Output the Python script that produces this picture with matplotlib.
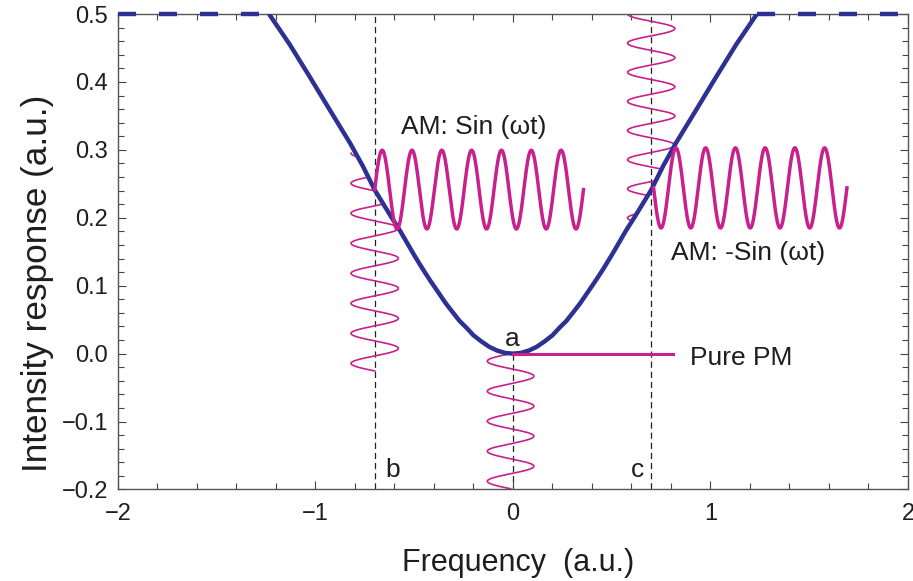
import numpy as np
import matplotlib
matplotlib.use("Agg")
import matplotlib.pyplot as plt
from matplotlib.ticker import MultipleLocator, FuncFormatter

plt.rcParams.update({"font.family": ["Liberation Sans", "DejaVu Sans"],
                     "lines.scale_dashes": False})

NAVY = "#2e3192"
MAGENTA = "#c8208c"
INK = "#1e1e1e"

# filter response curve (frequency, intensity)
curve_x = [-1.235, -1.13, -1.03, -0.93, -0.825, -0.76, -0.70, -0.62, -0.57, -0.50, -0.46,
           -0.42, -0.38, -0.34, -0.30, -0.27, -0.235, -0.20, -0.16, -0.12, -0.08, -0.04, 0.0,
           0.04, 0.08, 0.12, 0.16, 0.20, 0.235, 0.27, 0.30, 0.34, 0.38, 0.42, 0.46, 0.50,
           0.57, 0.62, 0.70, 0.76, 0.825, 0.93, 1.03, 1.13, 1.235]
curve_y = [0.500, 0.455, 0.408, 0.360, 0.310, 0.276, 0.241, 0.203, 0.180, 0.145, 0.126,
           0.108, 0.091, 0.074, 0.059, 0.048, 0.038, 0.027, 0.018, 0.010, 0.0045, 0.001, 0.0,
           0.001, 0.0045, 0.010, 0.018, 0.027, 0.038, 0.048, 0.059, 0.074, 0.091, 0.108, 0.126,
           0.145, 0.180, 0.203, 0.241, 0.276, 0.310, 0.360, 0.408, 0.455, 0.500]
clip_level = 0.5
x_range = [-2, 2]

# operating points a, b, c
op_x = [0.0, -0.70, 0.70]
op_names = ["a", "b", "c"]

# input frequency wobble drawn vertically: centre x, amplitude, period (y), start y, cycles, phase
vwaves = [
    dict(cx=-0.012, amp=0.118, period=0.0442, y0=0.0, cycles=4.5, phase="sin"),     # a
    dict(cx=-0.70, amp=0.120, period=0.0442, y0=0.295, cycles=7.25, phase="cos"),   # b
    dict(cx=0.70, amp=0.120, period=0.0429, y0=0.5, cycles=7.25, phase="cos"),      # c
]
# the part on the far side of the curve is left out (side, only above this level)
vwave_hide = [(None, 0), ("above", 0.18), ("below", -1.0)]

# output intensity waves: start x, centre y, amplitude, period (x), cycles, sign
am_waves = [
    dict(x0=-0.70, cy=0.2415, amp=0.058, period=0.151, cycles=7.0, sign=1),
    dict(x0=0.712, cy=0.244, amp=0.059, period=0.1506, cycles=6.5, sign=-1),
]
pm_line_x = [0.0, 0.81]

fig = plt.figure(figsize=(9.13, 5.81), dpi=100)
ax = fig.add_axes([0.1292, 0.1575, 0.8653, 0.8184])

# dashed guide lines
guide = dict(color="#222", lw=0.9, dashes=(4.5, 2.8), zorder=1)
ax.plot([op_x[1]] * 2, [-0.2, 0.5], **guide)
ax.plot([op_x[2]] * 2, [-0.2, 0.5], **guide)
ax.plot([op_x[0]] * 2, [0.0, -0.2], **guide)

# vertical input waves
for w, (side, level) in zip(vwaves, vwave_hide):
    t = np.linspace(0, w["cycles"], 800)
    yy = w["y0"] - t * w["period"]
    if w["phase"] == "sin":
        xx = w["cx"] - w["amp"] * np.sin(2 * np.pi * t)
    else:
        xx = w["cx"] - w["amp"] * np.cos(2 * np.pi * t)
    cy = np.interp(xx, curve_x, curve_y)
    if side == "above":
        xx = np.where((yy > cy) & (yy > level), np.nan, xx)
    elif side == "below":
        xx = np.where((yy < cy) & (yy > level), np.nan, xx)
    ax.plot(xx, yy, color=MAGENTA, lw=1.2, zorder=2)

# response curve and clipped flat parts
ax.plot(curve_x, curve_y, color=NAVY, lw=3.2, solid_capstyle="butt",
        solid_joinstyle="round", zorder=3)
ax.plot([x_range[0], curve_x[0]], [clip_level] * 2, color=NAVY, lw=3.2,
        dashes=(13, 16.5), dash_capstyle="butt", zorder=5, clip_on=False)
ax.plot([curve_x[-1], x_range[1]], [clip_level] * 2, color=NAVY, lw=3.2,
        dashes=(13, 16.5), dash_capstyle="butt", zorder=5, clip_on=False)

# output waves
for w in am_waves:
    xx = np.linspace(w["x0"], w["x0"] + w["cycles"] * w["period"], 800)
    yy = w["cy"] + w["sign"] * w["amp"] * np.sin(2 * np.pi * (xx - w["x0"]) / w["period"])
    ax.plot(xx, yy, color=MAGENTA, lw=2.5, zorder=4)
ax.plot(pm_line_x, [0, 0], color=MAGENTA, lw=2.2, zorder=4)

# labels
fs = 19
ax.text(-0.565, 0.323, "AM: Sin (\u03c9t)", fontsize=fs, color=INK, va="baseline")
ax.text(0.80, 0.138, "AM: -Sin (\u03c9t)", fontsize=fs, color=INK, va="baseline")
ax.text(0.896, -0.017, "Pure PM", fontsize=fs, color=INK, va="baseline")
ax.text(-0.005, 0.0116, op_names[0], fontsize=fs, color=INK, ha="center", va="baseline")
ax.text(-0.648, -0.181, op_names[1], fontsize=fs, color=INK, va="baseline")
ax.text(0.598, -0.181, op_names[2], fontsize=fs, color=INK, va="baseline")

ax.set_xlim(-2, 2)
ax.set_ylim(-0.2, 0.5)
ax.xaxis.set_major_locator(MultipleLocator(1))
ax.xaxis.set_minor_locator(MultipleLocator(0.2))
ax.yaxis.set_major_locator(MultipleLocator(0.1))
ax.yaxis.set_minor_locator(MultipleLocator(0.02))
ax.yaxis.set_major_formatter(FuncFormatter(lambda v, p: f"{v:.1f}".replace("-", "\u2212")))
ax.tick_params(which="both", direction="in", top=True, right=True, color="#444", width=0.8,
               labelsize=17, labelcolor=INK)
ax.tick_params(which="major", length=6)
ax.tick_params(which="minor", length=4)
ax.tick_params(axis="x", pad=10)
ax.tick_params(axis="y", pad=7)
for s in ax.spines.values():
    s.set_color("#555")
    s.set_linewidth(1.0)

fig.text(518 / 913, 1 - 563 / 581, "Frequency  (a.u.)", fontsize=22, color=INK,
         ha="center", va="center")
fig.text(37 / 913, 1 - 283 / 581, "Intensity response (a.u.)", fontsize=25.3, color=INK,
         ha="center", va="center", rotation=90)

fig.savefig("out.png", dpi=100, facecolor="white")
